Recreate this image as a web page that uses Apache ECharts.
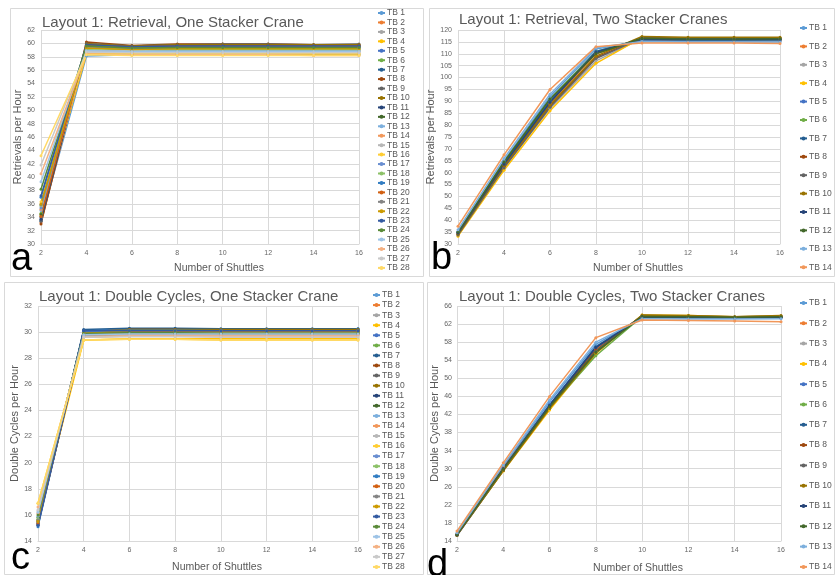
<!DOCTYPE html>
<html>
<head>
<meta charset="utf-8">
<script src="https://cdn.jsdelivr.net/npm/echarts@6/dist/echarts.min.js"></script>
<style>
  html, body { margin: 0; padding: 0; background: #ffffff; }
  #chart { width: 836px; height: 575px; }
</style>
</head>
<body>
<div id="chart"></div>
<script>
// Number of shuttles on the x axis
const shuttles = ['2', '4', '6', '8', '10', '12', '14', '16'];

// Layout 1: Retrieval, One Stacker Crane (TB 1 .. TB 28)
const retrievalOneCrane = [
  [33.6, 58.1, 58.3, 58.3, 58.3, 58.3, 58.3, 58.3],
  [33.2, 59.4, 59.1, 59.2, 59.2, 59.2, 59.1, 59.1],
  [33.8, 59.0, 58.8, 58.9, 58.9, 58.9, 58.9, 58.9],
  [34.5, 58.4, 58.4, 58.4, 58.4, 58.4, 58.4, 58.4],
  [34.0, 59.6, 59.4, 59.5, 59.5, 59.5, 59.5, 59.5],
  [34.6, 59.3, 59.2, 59.3, 59.3, 59.3, 59.3, 59.3],
  [33.4, 59.8, 59.6, 59.7, 59.7, 59.7, 59.7, 59.7],
  [33.0, 60.2, 59.7, 59.9, 59.9, 59.9, 59.8, 59.8],
  [33.5, 60.0, 59.6, 59.8, 59.9, 59.9, 59.8, 59.9],
  [34.2, 59.9, 59.6, 59.8, 59.8, 59.8, 59.8, 59.8],
  [33.7, 59.7, 59.5, 59.6, 59.6, 59.6, 59.6, 59.6],
  [34.4, 59.5, 59.4, 59.5, 59.5, 59.5, 59.5, 59.5],
  [35.0, 58.8, 58.8, 58.9, 58.9, 58.9, 58.9, 58.9],
  [35.2, 58.6, 58.6, 58.7, 58.7, 58.7, 58.7, 58.7],
  [35.6, 58.9, 58.8, 58.8, 58.8, 58.8, 58.8, 58.8],
  [36.3, 58.5, 58.5, 58.5, 58.5, 58.5, 58.5, 58.5],
  [35.4, 59.4, 59.2, 59.3, 59.3, 59.3, 59.3, 59.3],
  [35.8, 59.2, 59.1, 59.1, 59.1, 59.1, 59.1, 59.1],
  [37.0, 59.6, 59.4, 59.5, 59.5, 59.5, 59.5, 59.5],
  [34.1, 59.7, 59.5, 59.6, 59.6, 59.6, 59.6, 59.6],
  [35.9, 59.5, 59.3, 59.4, 59.4, 59.4, 59.4, 59.4],
  [36.0, 59.3, 59.1, 59.2, 59.2, 59.2, 59.2, 59.2],
  [37.2, 59.8, 59.5, 59.6, 59.6, 59.6, 59.6, 59.6],
  [38.2, 59.6, 59.3, 59.4, 59.4, 59.4, 59.4, 59.4],
  [39.3, 58.9, 58.8, 58.8, 58.8, 58.8, 58.8, 58.8],
  [40.5, 58.4, 58.3, 58.3, 58.3, 58.3, 58.2, 58.2],
  [41.8, 58.7, 58.6, 58.6, 58.6, 58.6, 58.6, 58.6],
  [43.2, 58.3, 58.2, 58.2, 58.2, 58.2, 58.2, 58.2]
];

// Layout 1: Retrieval, Two Stacker Cranes (TB 1 .. TB 14)
const retrievalTwoCranes = [
  [35.0, 65.0, 92.0, 112.0, 115.5, 115.2, 115.2, 115.2],
  [34.5, 63.5, 89.0, 110.0, 116.0, 115.6, 115.6, 115.6],
  [34.0, 62.0, 87.0, 107.0, 116.5, 116.2, 116.2, 116.3],
  [33.3, 61.0, 86.0, 106.0, 116.8, 116.5, 116.5, 116.6],
  [34.8, 64.0, 90.0, 110.5, 116.0, 115.8, 115.8, 115.8],
  [35.2, 64.5, 91.0, 111.0, 116.2, 116.0, 116.0, 116.0],
  [34.9, 64.0, 90.0, 111.0, 116.0, 115.8, 115.8, 115.9],
  [34.0, 62.5, 88.0, 108.5, 116.8, 116.5, 116.5, 116.6],
  [33.8, 62.0, 87.5, 108.0, 116.6, 116.4, 116.4, 116.4],
  [34.2, 63.0, 88.5, 109.0, 117.3, 116.9, 116.9, 117.0],
  [34.6, 63.5, 89.5, 110.5, 116.3, 116.1, 116.1, 116.1],
  [35.0, 64.5, 91.0, 110.0, 116.5, 116.2, 116.2, 116.3],
  [36.0, 66.0, 93.0, 112.5, 115.2, 115.0, 115.0, 115.0],
  [37.5, 67.5, 95.0, 113.0, 114.5, 114.5, 114.5, 114.3]
];

// Layout 1: Double Cycles, One Stacker Crane (TB 1 .. TB 28)
const doubleOneCrane = [
  [15.3, 30.1, 30.25, 30.25, 30.2, 30.2, 30.2, 30.25],
  [15.4, 29.9, 30.0, 30.0, 30.0, 30.0, 30.0, 30.0],
  [15.5, 29.7, 29.8, 29.8, 29.8, 29.8, 29.8, 29.8],
  [15.6, 29.4, 29.5, 29.5, 29.5, 29.5, 29.5, 29.5],
  [15.3, 30.1, 30.2, 30.2, 30.2, 30.2, 30.2, 30.2],
  [15.6, 30.0, 30.0, 30.0, 30.0, 30.0, 30.0, 30.0],
  [15.2, 30.2, 30.3, 30.3, 30.25, 30.25, 30.25, 30.25],
  [15.4, 30.0, 30.2, 30.2, 30.15, 30.15, 30.15, 30.15],
  [15.5, 30.1, 30.1, 30.1, 30.1, 30.1, 30.1, 30.1],
  [15.6, 30.0, 30.2, 30.2, 30.2, 30.2, 30.2, 30.2],
  [15.3, 30.1, 30.1, 30.1, 30.1, 30.1, 30.1, 30.1],
  [15.8, 30.0, 29.95, 29.95, 29.95, 29.95, 29.95, 29.95],
  [15.9, 29.9, 29.9, 29.9, 29.9, 29.9, 29.9, 29.9],
  [16.1, 29.8, 29.8, 29.8, 29.8, 29.8, 29.8, 29.8],
  [16.3, 29.6, 29.7, 29.7, 29.7, 29.7, 29.7, 29.7],
  [16.9, 29.4, 29.45, 29.45, 29.4, 29.4, 29.4, 29.4],
  [15.4, 30.0, 30.1, 30.1, 30.1, 30.1, 30.1, 30.1],
  [15.7, 29.9, 29.95, 29.95, 29.95, 29.95, 29.95, 29.95],
  [15.1, 30.1, 30.15, 30.15, 30.1, 30.1, 30.1, 30.1],
  [15.3, 29.9, 30.05, 30.05, 30.05, 30.05, 30.05, 30.05],
  [15.6, 29.8, 29.9, 29.9, 29.9, 29.9, 29.9, 29.9],
  [15.5, 29.9, 30.1, 30.1, 30.1, 30.1, 30.1, 30.1],
  [15.2, 30.1, 30.1, 30.1, 30.1, 30.1, 30.1, 30.1],
  [16.0, 29.9, 29.95, 29.95, 29.9, 29.9, 29.9, 29.9],
  [16.2, 29.8, 29.85, 29.85, 29.85, 29.85, 29.85, 29.85],
  [16.6, 29.6, 29.7, 29.7, 29.7, 29.7, 29.7, 29.7],
  [16.4, 29.6, 29.65, 29.65, 29.6, 29.6, 29.6, 29.6],
  [16.9, 29.4, 29.45, 29.45, 29.4, 29.4, 29.4, 29.4]
];

// Layout 1: Double Cycles, Two Stacker Cranes (TB 1 .. TB 14)
const doubleTwoCranes = [
  [15.6, 30.5, 44.8, 57.5, 63.5, 63.4, 63.4, 63.6],
  [15.5, 30.2, 44.0, 56.5, 63.6, 63.5, 63.4, 63.5],
  [15.4, 29.8, 43.5, 56.0, 63.8, 63.6, 63.5, 63.7],
  [15.3, 29.5, 43.0, 55.5, 64.0, 63.9, 63.6, 63.8],
  [15.5, 30.0, 44.2, 56.8, 63.5, 63.4, 63.4, 63.5],
  [15.4, 29.7, 43.5, 55.0, 63.7, 63.6, 63.5, 63.6],
  [15.3, 30.0, 44.0, 57.0, 63.5, 63.4, 63.4, 63.5],
  [15.4, 29.8, 43.8, 56.2, 63.8, 63.7, 63.5, 63.7],
  [15.2, 29.6, 43.4, 56.0, 63.9, 63.8, 63.6, 63.8],
  [15.3, 29.6, 43.3, 55.6, 64.0, 63.9, 63.6, 63.9],
  [15.4, 30.0, 44.0, 56.8, 63.6, 63.5, 63.4, 63.4],
  [15.5, 29.9, 43.7, 55.8, 63.7, 63.6, 63.5, 63.6],
  [15.8, 30.8, 45.2, 58.0, 63.2, 63.1, 63.1, 63.2],
  [16.2, 31.3, 46.0, 59.0, 62.9, 62.8, 62.7, 62.5]
];

// Panel titles, axis names and corner letters
const panelTitles = [
  'Layout 1: Retrieval, One Stacker Crane',
  'Layout 1: Retrieval, Two Stacker Cranes',
  'Layout 1: Double Cycles, One Stacker Crane',
  'Layout 1: Double Cycles, Two Stacker Cranes'
];
const yAxisNames = ['Retrievals per Hour', 'Retrievals per Hour', 'Double Cycles per Hour', 'Double Cycles per Hour'];
const xAxisName = 'Number of Shuttles';
const panelLetters = ['a', 'b', 'c', 'd'];

// Office-style series colours
const palette = [
  '#5B9BD5', '#ED7D31', '#A5A5A5', '#FFC000', '#4472C4', '#70AD47', '#255E91',
  '#9E480E', '#636363', '#997300', '#264478', '#43682B', '#7CAFDD', '#F1975A',
  '#B7B7B7', '#FFCD33', '#698ED0', '#8CC168', '#327DC2', '#D26012', '#848484',
  '#CC9A00', '#335AA1', '#5A8A39', '#9DC3E6', '#F4B183', '#C9C9C9', '#FFD966'
];

const FONT = '"Liberation Sans", Arial, sans-serif';
const TEXT_GRAY = '#595959';
const GRID_GRAY = '#d9d9d9';

const panelData = [retrievalOneCrane, retrievalTwoCranes, doubleOneCrane, doubleTwoCranes];

// Layout of each panel, in page pixels
const panels = [
  { box: [10, 8, 413, 268], grid: { left: 41, top: 30, width: 318, height: 214 },
    y: { min: 30, max: 62, interval: 2, nameGap: 18, labelMargin: 6 }, xNameGap: 18.5,
    title: { left: 42, top: 13.5 },
    legend: { left: 377, top: 8.3, lineHeight: 9.44, itemGap: 0 },
    letter: { x: 11, y: 259.8 } },
  { box: [429, 8, 405, 268], grid: { left: 458, top: 30, width: 322, height: 214 },
    y: { min: 30, max: 120, interval: 5, nameGap: 17.5, labelMargin: 6 }, xNameGap: 18.5,
    title: { left: 459, top: 10.8 },
    legend: { left: 799, top: 23.5, lineHeight: 9, itemGap: 9.4 },
    letter: { x: 431, y: 258.8 } },
  { box: [4, 282, 419, 292], grid: { left: 38, top: 306, width: 320, height: 235 },
    y: { min: 14, max: 32, interval: 2, nameGap: 15.5, labelMargin: 6 }, xNameGap: 20.5,
    title: { left: 39, top: 288 },
    legend: { left: 372, top: 290, lineHeight: 10.07, itemGap: 0 },
    letter: { x: 11, y: 558.8 } },
  { box: [427, 282, 407, 292], grid: { left: 457, top: 306, width: 324, height: 235 },
    y: { min: 14, max: 66, interval: 4, nameGap: 16.5, labelMargin: 5 }, xNameGap: 21.5,
    title: { left: 459, top: 288 },
    legend: { left: 799, top: 298.5, lineHeight: 9, itemGap: 11.3 },
    letter: { x: 427, y: 565.8 } }
];

const option = {
  animation: false,
  backgroundColor: '#ffffff',
  textStyle: { fontFamily: FONT },
  title: panels.map((p, i) => ({
    text: panelTitles[i],
    left: p.title.left, top: p.title.top, padding: 0,
    textStyle: { fontFamily: FONT, fontSize: 15, fontWeight: 'normal', color: TEXT_GRAY, lineHeight: 18 }
  })),
  legend: panels.map((p, i) => ({
    orient: 'vertical',
    left: p.legend.left, top: p.legend.top, padding: 0,
    itemWidth: 7, itemHeight: 5, itemGap: p.legend.itemGap,
    data: panelData[i].map((_, k) => 'TB ' + (k + 1)),
    textStyle: { fontFamily: FONT, fontSize: 8.5, color: TEXT_GRAY, lineHeight: p.legend.lineHeight, padding: [0, 0, 0, -3] }
  })),
  grid: panels.map(p => Object.assign({ containLabel: false }, p.grid)),
  xAxis: panels.map((p, i) => ({
    type: 'category', gridIndex: i, data: shuttles, boundaryGap: false,
    name: xAxisName, nameLocation: 'middle', nameGap: p.xNameGap,
    nameTextStyle: { fontFamily: FONT, fontSize: 10.5, color: TEXT_GRAY, padding: [0, 0, 0, 38] },
    axisLine: { show: true, lineStyle: { color: GRID_GRAY } },
    axisTick: { show: false },
    axisLabel: { fontFamily: FONT, fontSize: 7, color: '#666666', margin: 5.5 },
    splitLine: { show: true, lineStyle: { color: GRID_GRAY, width: 1 } }
  })),
  yAxis: panels.map((p, i) => ({
    type: 'value', gridIndex: i, min: p.y.min, max: p.y.max, interval: p.y.interval,
    name: yAxisNames[i], nameLocation: 'middle', nameGap: p.y.nameGap,
    nameTextStyle: { fontFamily: FONT, fontSize: 11, color: TEXT_GRAY },
    axisLine: { show: false },
    axisTick: { show: false },
    axisLabel: { fontFamily: FONT, fontSize: 7, color: '#666666', margin: p.y.labelMargin },
    splitLine: { show: true, lineStyle: { color: GRID_GRAY, width: 1 } }
  })),
  series: [],
  graphic: []
};

// One line per test block in every panel
panelData.forEach((rows, i) => {
  rows.forEach((vals, k) => {
    option.series.push({
      name: 'TB ' + (k + 1),
      type: 'line',
      xAxisIndex: i, yAxisIndex: i,
      data: vals,
      color: palette[k],
      symbol: 'circle', symbolSize: 3,
      lineStyle: { width: 1.5 },
      emphasis: { disabled: true }
    });
  });
});

// Panel frames and corner letters
panels.forEach((p, i) => {
  option.graphic.push({
    type: 'rect', silent: true, z: -1,
    shape: { x: p.box[0] + 0.5, y: p.box[1] + 0.5, width: p.box[2], height: p.box[3] },
    style: { fill: null, stroke: GRID_GRAY, lineWidth: 1 }
  });
  option.graphic.push({
    type: 'text', silent: true, z: 100,
    x: p.letter.x, y: p.letter.y,
    style: { text: panelLetters[i], font: '38px ' + FONT, fill: '#000000', verticalAlign: 'middle', align: 'left' }
  });
});

const chart = echarts.init(document.getElementById('chart'), null, { renderer: 'canvas' });
chart.setOption(option);
</script>
</body>
</html>
